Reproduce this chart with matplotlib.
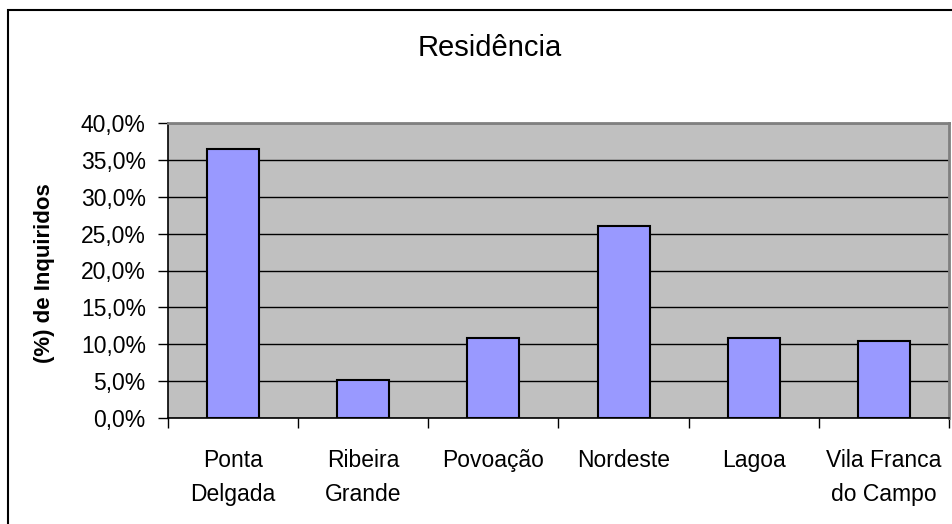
import matplotlib
matplotlib.use("Agg")
import matplotlib.pyplot as plt
from matplotlib.patches import Rectangle
from matplotlib.ticker import FuncFormatter, FixedLocator
import numpy as np

plt.rcParams['font.family'] = ['Liberation Sans', 'DejaVu Sans']

categories = ["Ponta\nDelgada", "Ribeira\nGrande", "Povoação", "Nordeste", "Lagoa", "Vila Franca\ndo Campo"]
values = [36.5, 5.1, 10.8, 26.0, 10.8, 10.5]
yticks = [0, 5, 10, 15, 20, 25, 30, 35, 40]
title = "Residência"
ylabel = "(%) de Inquiridos"

W, H = 953, 524
fig = plt.figure(figsize=(W / 100, H / 100), dpi=100)

# figure border
fig.patches.append(Rectangle((8 / W, -0.5), 2.0, (H - 10) / H + 0.5, transform=fig.transFigure,
                             fill=False, edgecolor='black', linewidth=1.5, clip_on=False))

ax = fig.add_axes([168 / W, (H - 418) / H, (949 - 168) / W, (418 - 123) / H])
ax.set_facecolor('#C0C0C0')
x = np.arange(len(categories))
ax.bar(x, values, width=0.4, color='#9999FF', edgecolor='black', linewidth=1.5, zorder=3)

ax.set_xlim(-0.5, len(categories) - 0.5)
ax.set_ylim(0, 40)
ax.set_yticks(yticks)
ax.yaxis.set_major_formatter(FuncFormatter(lambda v, p: f"{v:.1f}".replace('.', ',') + "%"))
ax.yaxis.grid(True, color='black', linewidth=1, zorder=1)
ax.set_axisbelow(True)

ax.set_xticks(x)
ax.set_xticklabels(categories, fontsize=16.5, linespacing=1.65, va='top')
ax.xaxis.set_minor_locator(FixedLocator(np.arange(-0.5, len(categories), 1.0)))
ax.tick_params(axis='x', which='major', length=0, pad=22)
ax.tick_params(axis='x', which='minor', length=7, width=1, direction='out', color='black')
ax.tick_params(axis='y', length=7, width=1, direction='out', pad=9, labelsize=16.5, color='black')

for s in ['left', 'bottom']:
    ax.spines[s].set_color('black')
    ax.spines[s].set_linewidth(1.2)
for s in ['top', 'right']:
    ax.spines[s].set_color('#808080')
    ax.spines[s].set_linewidth(2)

ax.set_ylabel(ylabel, fontsize=16, fontweight='bold')
ax.yaxis.set_label_coords((55 - 168) / 781, 0.49)
fig.text(490 / W, 1 - 48 / H, title, ha='center', va='center', fontsize=21)

fig.savefig("out.png", dpi=100)
